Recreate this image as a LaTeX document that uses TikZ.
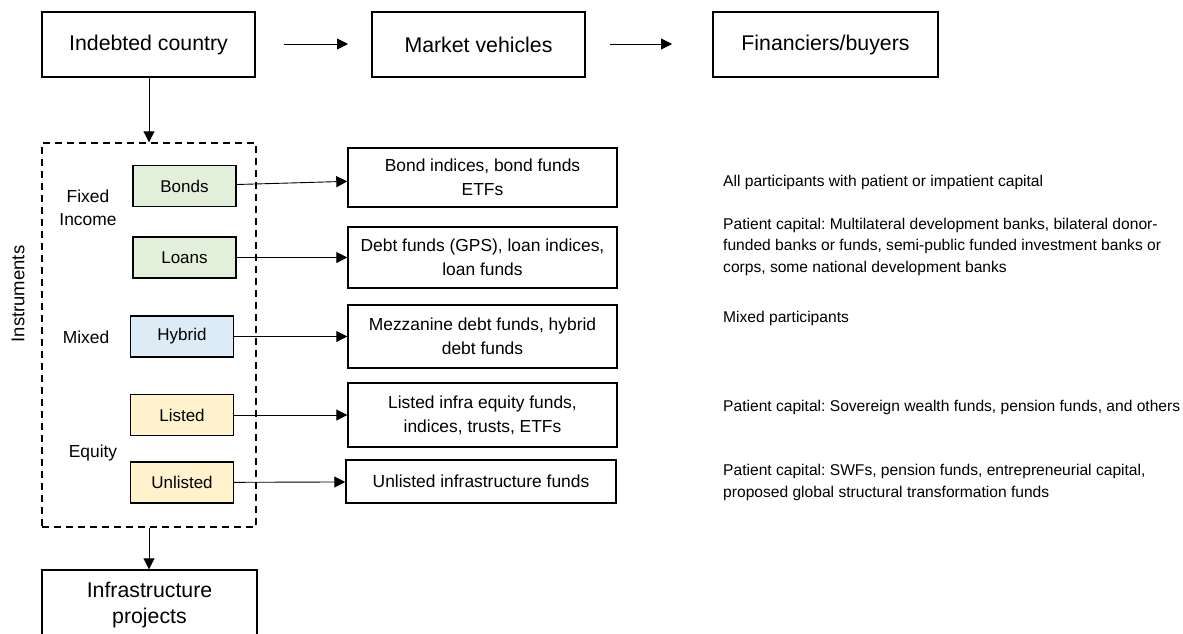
\documentclass[tikz,border=0pt]{standalone}
\usepackage{fontspec}
\setmainfont{Liberation Sans}
\usetikzlibrary{arrows.meta}
\definecolor{fixgreen}{HTML}{E2EFDA}
\definecolor{mixblue}{HTML}{DDEBF7}
\definecolor{eqyellow}{HTML}{FFF2CC}
\frenchspacing
\begin{document}
\begin{tikzpicture}[x=1pt, y=-1pt,
  bigbox/.style={draw, line width=1.4pt, minimum width=213pt, minimum height=65pt, inner sep=0pt, align=center, font=\fontsize{21.3}{26}\selectfont},
  instbox/.style={draw, line width=1.4pt, minimum width=103pt, minimum height=41pt, inner sep=0pt, font=\fontsize{17}{20}\selectfont},
  mvbox/.style={draw, line width=1.4pt, minimum width=269pt, inner sep=0pt, align=center, font=\fontsize{17.4}{24}\selectfont},
  grouplbl/.style={align=center, inner sep=0pt, font=\fontsize{17.4}{23}\selectfont},
  partlbl/.style={anchor=west, align=left, inner sep=0pt, font=\fontsize{15.6}{21.5}\selectfont},
  arr/.style={line width=0.9pt, -{Triangle[length=11pt, width=11pt]}}]
\useasboundingbox (0,0) rectangle (1183,633);
\node[bigbox] (country) at (148.5,44.5){Indebted country};
\node[bigbox] (vehicles) at (478.5,44.5){Market vehicles};
\node[bigbox, minimum width=225pt] (buyers) at (825.5,44.5){Financiers/buyers};
\coordinate (a1s) at (284,44);
\coordinate (a1e) at (348,44);
\coordinate (a2s) at (610,44);
\coordinate (a2e) at (672,44);
\draw[arr](a1s) -- (a1e);
\draw[arr](a2s) -- (a2e);
\node[draw, dashed, dash pattern=on 7pt off 5pt, line width=1.4pt, minimum width=214pt, minimum height=384pt, inner sep=0pt] (instr) at (149,335){};
\draw[arr](country.south -| instr.north) -- (instr.north);
\node[rotate=90, inner sep=0pt, font=\fontsize{18.5}{22}\selectfont] (instlbl) at (18,294){Instruments};
\node[grouplbl] (fixed) at (88,208){Fixed\\Income};
\node[grouplbl] (mixed) at (86,337){Mixed};
\node[grouplbl] (equity) at (93,453){Equity};
\node[instbox, fill=fixgreen] (bonds) at (184.5,186){Bonds};
\node[instbox, fill=fixgreen] (loans) at (184.5,257.5){Loans};
\node[instbox, fill=mixblue] (hybrid) at (182,336.5){Hybrid};
\node[instbox, fill=eqyellow] (listed) at (182,415){Listed};
\node[instbox, fill=eqyellow] (unlisted) at (182,482.5){Unlisted};
\node[mvbox, minimum height=59pt] (bondmv) at (482.5,177.5){Bond indices, bond funds\\ETFs};
\node[mvbox, minimum height=61pt] (debtmv) at (482.5,257.5){Debt funds (GPS), loan indices,\\loan funds};
\node[mvbox, minimum height=63pt] (mezzmv) at (482.5,336.5){Mezzanine debt funds, hybrid\\debt funds};
\node[mvbox, minimum height=64pt] (listmv) at (482.5,415){Listed infra equity funds,\\indices, trusts, ETFs};
\node[mvbox, minimum height=43pt, minimum width=270pt] (unlistmv) at (481,481.5){Unlisted infrastructure funds};
\draw[arr](bonds) -- (bondmv);
\draw[arr](loans) -- (debtmv);
\draw[arr](hybrid) -- (mezzmv);
\draw[arr](listed) -- (listmv);
\draw[arr](unlisted) -- (unlistmv);
\node[bigbox, minimum width=215pt, minimum height=70pt] (infra) at (149.5,605){Infrastructure\\projects};
\draw[arr](instr.south) -- (instr.south |- infra.north);
% participants
\node[partlbl] (allp) at (723,182){All participants with patient or impatient capital};
\node[partlbl] (mdbp) at (723,246.5){Patient capital: Multilateral development banks, bilateral donor-\\funded banks or funds, semi-public funded investment banks or\\corps, some national development banks};
\node[partlbl] (mixp) at (723,318){Mixed participants};
\node[partlbl] (swfp) at (723,407){Patient capital: Sovereign wealth funds, pension funds, and others};
\node[partlbl] (entp) at (723,482.5){Patient capital: SWFs, pension funds, entrepreneurial capital,\\proposed global structural transformation funds};
\end{tikzpicture}
\end{document}
